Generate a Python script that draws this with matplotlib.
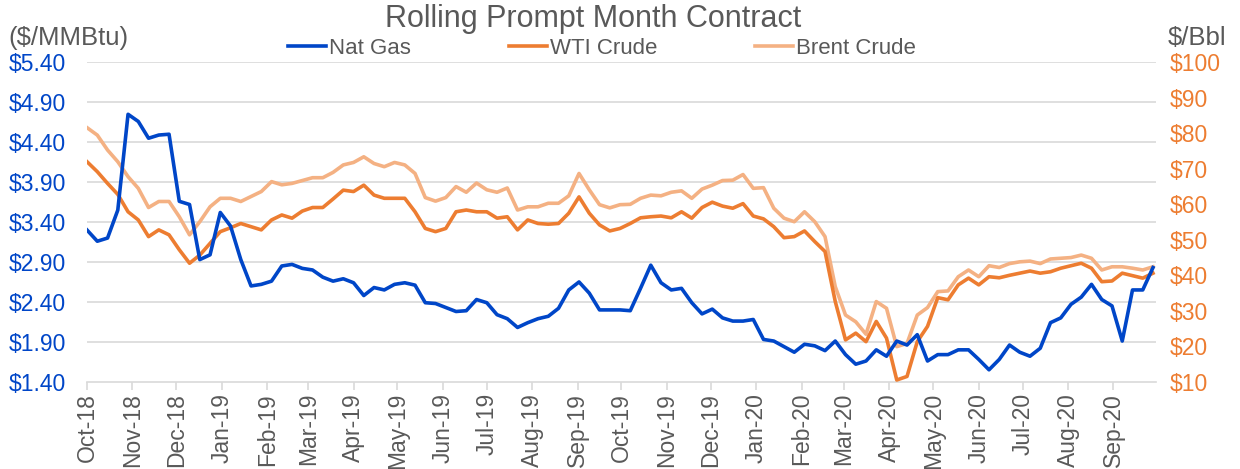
import matplotlib
matplotlib.use("Agg")
import matplotlib.pyplot as plt
import matplotlib.dates as mdates
from matplotlib.ticker import FuncFormatter
import pandas as pd

plt.rcParams['font.family'] = ['Liberation Sans', 'DejaVu Sans']

# weekly readings, first trading week of Oct-18 through end of Sep-20
dates = pd.date_range('2018-10-01', periods=105, freq='7D')

nat_gas = [3.30, 3.16, 3.20, 3.55, 4.75, 4.66, 4.45, 4.49, 4.50, 3.66,
           3.62, 2.93, 2.99, 3.52, 3.35, 2.93, 2.60, 2.62, 2.66, 2.85,
           2.87, 2.82, 2.80, 2.71, 2.66, 2.69, 2.64, 2.48, 2.58, 2.55,
           2.62, 2.64, 2.61, 2.39, 2.38, 2.33, 2.28, 2.29, 2.43, 2.39,
           2.24, 2.19, 2.08, 2.14, 2.19, 2.22, 2.32, 2.55, 2.65, 2.51,
           2.30, 2.30, 2.30, 2.29, 2.57, 2.86, 2.64, 2.55, 2.57, 2.39,
           2.25, 2.31, 2.20, 2.16, 2.16, 2.18, 1.93, 1.91, 1.84, 1.77,
           1.87, 1.85, 1.79, 1.91, 1.74, 1.62, 1.66, 1.80, 1.72, 1.91,
           1.86, 1.99, 1.66, 1.74, 1.74, 1.80, 1.80, 1.68, 1.55, 1.68,
           1.86, 1.77, 1.72, 1.82, 2.14, 2.20, 2.37, 2.46, 2.62, 2.43,
           2.35, 1.91, 2.55, 2.55, 2.83]

wti = [72.0, 69.2, 65.9, 62.8, 57.9, 55.6, 50.9, 52.8, 51.4, 47.2,
       43.4, 45.7, 49.0, 52.3, 53.4, 54.6, 53.7, 52.8, 55.6, 57.0,
       56.1, 58.1, 59.1, 59.1, 61.5, 64.0, 63.6, 65.4, 62.6, 61.7,
       61.7, 61.7, 57.9, 53.2, 52.3, 53.2, 57.9, 58.4, 57.9, 57.9,
       56.1, 56.5, 52.8, 55.6, 54.6, 54.4, 54.6, 57.5, 62.1, 57.5,
       54.2, 52.5, 53.2, 54.6, 56.2, 56.5, 56.7, 56.2, 57.9, 56.1,
       59.1, 60.6, 59.5, 58.9, 60.2, 56.7, 55.9, 53.7, 50.6, 50.9,
       52.5, 49.5, 46.7, 32.6, 21.8, 23.7, 21.3, 27.0, 22.3, 10.5,
       11.5, 21.3, 25.6, 33.7, 33.1, 37.3, 39.2, 37.3, 39.6, 39.3,
       40.0, 40.6, 41.2, 40.6, 41.0, 42.0, 42.7, 43.4, 42.0, 38.2,
       38.4, 40.6, 39.9, 39.2, 40.6]

brent = [81.6, 79.5, 75.3, 72.0, 67.8, 64.5, 59.1, 60.8, 60.8, 56.5,
         51.4, 55.1, 59.3, 61.7, 61.7, 60.8, 62.2, 63.6, 66.4, 65.5,
         65.9, 66.7, 67.5, 67.5, 69.0, 71.1, 71.8, 73.4, 71.5, 70.6,
         71.8, 71.1, 68.7, 61.9, 60.9, 61.9, 65.0, 63.4, 66.0, 64.1,
         63.4, 64.6, 58.4, 59.3, 59.3, 60.3, 60.3, 62.4, 68.7, 64.1,
         59.9, 59.0, 59.9, 60.0, 61.7, 62.6, 62.4, 63.4, 63.8, 61.7,
         64.3, 65.4, 66.7, 66.8, 68.4, 64.5, 64.7, 58.9, 56.1, 55.1,
         57.9, 55.1, 50.9, 36.8, 28.8, 26.9, 23.4, 32.6, 30.7, 19.9,
         20.8, 28.8, 30.9, 35.4, 35.6, 39.6, 41.5, 39.6, 42.7, 42.2,
         43.3, 43.8, 44.0, 43.3, 44.6, 44.8, 45.0, 45.7, 44.8, 41.5,
         42.4, 42.4, 42.0, 41.5, 42.4]

gas_ticks = [1.40, 1.90, 2.40, 2.90, 3.40, 3.90, 4.40, 4.90, 5.40]
oil_ticks = list(range(10, 101, 10))

BLUE = '#0046C8'
ORANGE = '#ED7D31'
LIGHT = '#F4B183'
GREY = '#595959'
GRID = '#D9D9D9'

fig = plt.figure(figsize=(12.4, 4.69), dpi=100)
ax_oil = fig.add_axes([0.0702, 0.186, 0.862, 0.681])
ax_gas = ax_oil.twinx()

# oil on the lower axes, nat gas drawn on top
ax_oil.set_ylim(10, 100)
ax_gas.set_ylim(1.40, 5.40)

# gridlines follow the $/MMBtu ticks, drawn under everything
for g in gas_ticks[1:]:
    oil_eq = 10 + (g - 1.40) / 4.0 * 90
    ax_oil.axhline(oil_eq, color=GRID, lw=1.2, zorder=0)

l_wti, = ax_oil.plot(dates, wti, color=ORANGE, lw=2.6, label='WTI Crude', zorder=3)
l_brent, = ax_oil.plot(dates, brent, color=LIGHT, lw=2.6, label='Brent Crude', zorder=2)
l_gas, = ax_gas.plot(dates, nat_gas, color=BLUE, lw=2.6, label='Nat Gas', zorder=3)

ax_oil.set_xlim(pd.Timestamp('2018-10-01'), pd.Timestamp('2020-09-30'))
ax_oil.xaxis.set_major_locator(mdates.MonthLocator())
ax_oil.xaxis.set_major_formatter(mdates.DateFormatter('%b-%y'))
ax_oil.tick_params(axis='x', labelrotation=90, labelsize=16.5, labelcolor=GREY,
                   color=GRID, length=6, width=1.2, pad=2)

ax_gas.yaxis.tick_left()
ax_oil.yaxis.tick_right()
ax_gas.set_yticks(gas_ticks)
ax_gas.yaxis.set_major_formatter(FuncFormatter(lambda v, p: '${:.2f}'.format(v)))
ax_gas.tick_params(axis='y', length=0, pad=15, labelsize=16.5, labelcolor=BLUE)
ax_oil.set_yticks(oil_ticks)
ax_oil.yaxis.set_major_formatter(FuncFormatter(lambda v, p: '${:d}'.format(int(v))))
ax_oil.tick_params(axis='y', length=0, pad=10, labelsize=16.5, labelcolor=ORANGE)

for a in (ax_oil, ax_gas):
    for s in ('top', 'left', 'right'):
        a.spines[s].set_visible(False)
    a.spines['bottom'].set_color(GRID)
    a.spines['bottom'].set_linewidth(1.2)
ax_gas.spines['bottom'].set_visible(False)

fig.text(0.478, 1 - 19 / 469, 'Rolling Prompt Month Contract', ha='center', va='center',
         fontsize=22, color=GREY)
fig.text(8 / 1240, 1 - 38 / 469, '($/MMBtu)', ha='left', va='center', fontsize=18.5, color=GREY)
fig.text(1226 / 1240, 1 - 38 / 469, '$/Bbl', ha='right', va='center', fontsize=18.5, color=GREY)

fig.legend([l_gas, l_wti, l_brent], ['Nat Gas', 'WTI Crude', 'Brent Crude'],
           loc='center', bbox_to_anchor=(602 / 1240, 1 - 48 / 469), ncol=3, frameon=False,
           fontsize=16, labelcolor=GREY, handlelength=1.7, handletextpad=0.15,
           columnspacing=4.4, borderpad=0)

fig.savefig('out.png', dpi=100)
